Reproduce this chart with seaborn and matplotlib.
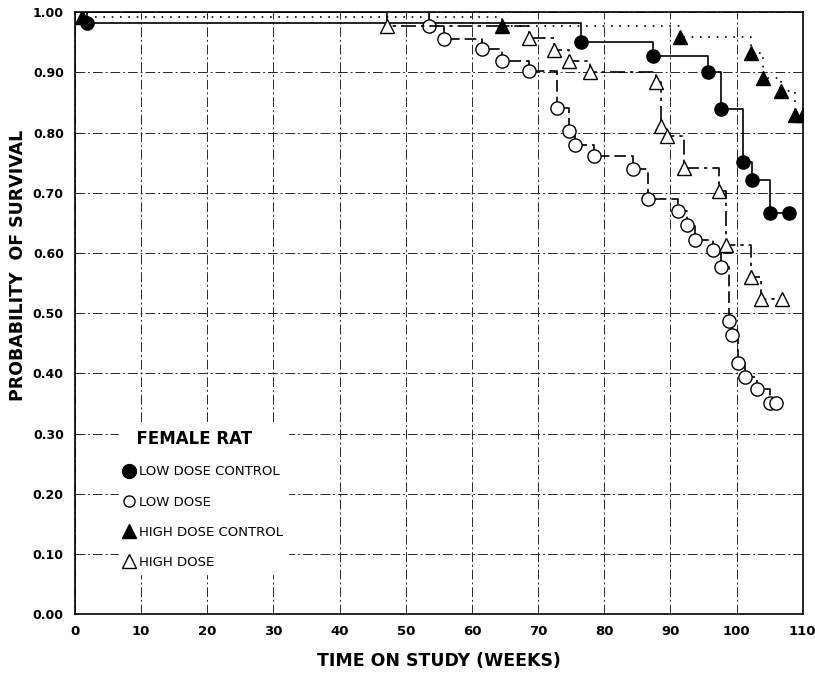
import matplotlib
matplotlib.use("Agg")
import matplotlib.pyplot as plt
from matplotlib.lines import Line2D
import seaborn as sns
import pandas as pd

sns.set_theme(style="white")
plt.rcParams['font.family'] = ['DejaVu Sans']
plt.rcParams['text.color'] = 'black'
plt.rcParams['axes.labelcolor'] = 'black'
plt.rcParams['xtick.color'] = 'black'
plt.rcParams['ytick.color'] = 'black'

# ---- data ----
ldc_weeks = [0, 1.8, 76.5, 87.4, 95.6, 97.6, 101.0, 102.3, 105.1, 107.9]
ldc_surv  = [1.0, 0.983, 0.951, 0.927, 0.901, 0.840, 0.751, 0.722, 0.666, 0.666]

ld_weeks = [0, 53.5, 55.8, 61.5, 64.5, 68.6, 72.8, 74.7, 75.6, 78.5, 84.3, 86.6,
            91.2, 92.5, 93.7, 96.5, 97.7, 98.8, 99.3, 100.2, 101.3, 103.1, 105.0, 105.9]
ld_surv  = [1.0, 0.977, 0.956, 0.939, 0.919, 0.903, 0.841, 0.803, 0.780, 0.762, 0.740, 0.690,
            0.670, 0.646, 0.622, 0.605, 0.576, 0.487, 0.463, 0.417, 0.394, 0.374, 0.351, 0.351]

hdc_weeks = [0, 1.0, 64.5, 91.4, 102.2, 104.0, 106.7, 108.9, 110.0]
hdc_surv  = [1.0, 0.993, 0.978, 0.959, 0.932, 0.890, 0.870, 0.829, 0.829]

hd_weeks = [0, 47.2, 68.6, 72.4, 74.6, 77.9, 87.8, 88.6, 89.5, 92.1, 97.4, 98.4,
            102.1, 103.7, 106.8]
hd_surv  = [1.0, 0.978, 0.958, 0.937, 0.919, 0.901, 0.884, 0.811, 0.794, 0.742, 0.703, 0.613,
            0.560, 0.524, 0.524]

legend_title = "FEMALE RAT"
legend_labels = ["LOW DOSE CONTROL", "LOW DOSE", "HIGH DOSE CONTROL", "HIGH DOSE"]
x_ticks = list(range(0, 111, 10))
y_ticks = [i / 10 for i in range(0, 11)]

# ---- figure ----
fig = plt.figure(figsize=(8.15, 6.83), dpi=100)
ax = fig.add_axes([0.092, 0.101, 0.893, 0.881])

series = [
    (ldc_weeks, ldc_surv, "o", "black", "-"),
    (ld_weeks, ld_surv, "o", "white", (0, (7, 3))),
    (hdc_weeks, hdc_surv, "^", "black", (0, (1, 4))),
    (hd_weeks, hd_surv, "^", "white", (0, (9, 3, 2, 3))),
]
for wk, sv, mk, fc, ls in series:
    df = pd.DataFrame({"week": wk, "surv": sv})
    sns.lineplot(data=df, x="week", y="surv", ax=ax, estimator=None, sort=False,
                 drawstyle="steps-post", color="black", linestyle=ls, linewidth=1.2,
                 marker=mk, markersize=9.5, markerfacecolor=fc, markeredgecolor="black",
                 markeredgewidth=1.0, markevery=list(range(1, len(wk))), legend=False,
                 zorder=3)

ax.set_xlim(0, 110)
ax.set_ylim(0, 1.0)
ax.set_xticks(x_ticks)
ax.set_yticks(y_ticks)
ax.set_xticklabels([str(v) for v in x_ticks], fontsize=9.5, fontweight="bold")
ax.set_yticklabels([f"{v:.2f}" for v in y_ticks], fontsize=9, fontweight="bold")
ax.tick_params(axis="both", direction="inout", length=8, width=1, color="black", pad=4)
ax.grid(True, color="0.15", linewidth=0.7, linestyle=(0, (10, 3, 2, 3)))
for s in ax.spines.values():
    s.set_visible(True)
    s.set_color("black")
    s.set_linewidth(1.2)

ax.set_xlabel("TIME ON STUDY (WEEKS)", fontsize=12.5, fontweight="bold", labelpad=10)
ax.set_ylabel("PROBABILITY  OF SURVIVAL", fontsize=12.5, fontweight="bold")
ax.yaxis.set_label_coords(-0.066, 0.58)

handles = [
    Line2D([], [], marker="o", linestyle="none", markersize=10, markerfacecolor="black", markeredgecolor="black"),
    Line2D([], [], marker="o", linestyle="none", markersize=8, markerfacecolor="white", markeredgecolor="black"),
    Line2D([], [], marker="^", linestyle="none", markersize=10.5, markerfacecolor="black", markeredgecolor="black"),
    Line2D([], [], marker="^", linestyle="none", markersize=10.5, markerfacecolor="white", markeredgecolor="black"),
]
leg = ax.legend(handles, legend_labels, title="  " + legend_title, loc="upper left",
                bbox_to_anchor=(0.052, 0.325), frameon=True, fancybox=False,
                facecolor="white", edgecolor="white", framealpha=1,
                handlelength=0.7, handletextpad=0.35, labelspacing=1.3,
                borderpad=0.4, prop={"size": 9.5})
leg.get_title().set_fontweight("bold")
leg.get_title().set_fontsize(12)
leg._legend_box.align = "left"
leg.set_zorder(5)

fig.savefig("out.png", dpi=100)
